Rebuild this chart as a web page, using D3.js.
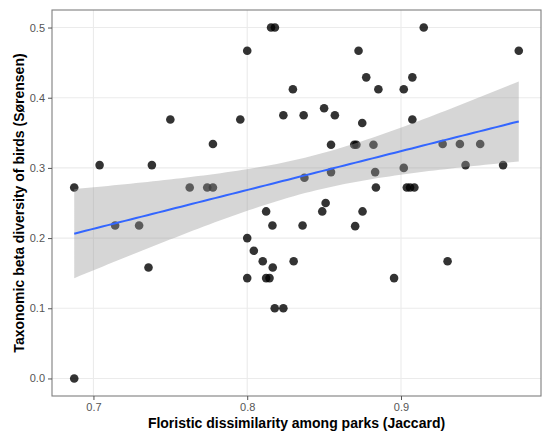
<!DOCTYPE html>
<html>
<head>
<meta charset="utf-8">
<script src="https://cdn.jsdelivr.net/npm/d3@7"></script>
<style>
  body { margin: 0; background: #fff; }
  text { font-family: "Liberation Sans", Arial, sans-serif; }
</style>
</head>
<body>
<div id="chart"></div>
<script>
// floristic dissimilarity (Jaccard) of each park pair
const jaccard = [
  0.6875, 0.704, 0.6875, 0.738, 0.750, 0.7777, 0.7955, 0.800, 0.8155, 0.818,
  0.8297, 0.8235, 0.8367, 0.7626, 0.774, 0.7777, 0.8372, 0.7141, 0.7297, 0.7358,
  0.8123, 0.8164, 0.836, 0.800, 0.8043, 0.8101, 0.8166, 0.8302, 0.800, 0.8123,
  0.8145, 0.8179, 0.8235, 0.8545, 0.8696, 0.8710, 0.8821, 0.8545, 0.8832, 0.8837,
  0.851, 0.8488, 0.875, 0.8702, 0.850, 0.857, 0.8748, 0.8724, 0.8774, 0.8853,
  0.9148, 0.9074, 0.9018, 0.9074, 0.9766, 0.9271, 0.9383, 0.9515, 0.9018, 0.942,
  0.9664, 0.9038, 0.9059, 0.9087, 0.9303, 0.8955
];
// taxonomic beta diversity of birds (Sorensen), same order
const sorensen = [
  0.272, 0.304, 0.000, 0.304, 0.369, 0.334, 0.369, 0.467, 0.500, 0.500,
  0.412, 0.375, 0.375, 0.272, 0.272, 0.272, 0.286, 0.218, 0.218, 0.158,
  0.238, 0.218, 0.218, 0.200, 0.182, 0.167, 0.158, 0.167, 0.143, 0.143,
  0.143, 0.100, 0.100, 0.333, 0.333, 0.333, 0.333, 0.294, 0.294, 0.272,
  0.250, 0.238, 0.238, 0.217, 0.385, 0.375, 0.364, 0.467, 0.429, 0.412,
  0.500, 0.429, 0.412, 0.369, 0.467, 0.334, 0.334, 0.334, 0.300, 0.304,
  0.304, 0.272, 0.272, 0.272, 0.167, 0.143
];
const xTicks = [0.7, 0.8, 0.9];
const yTicks = [0.0, 0.1, 0.2, 0.3, 0.4, 0.5];

const data = jaccard.map((x, i) => ({x: x, y: sorensen[i]}));

const W = 550, H = 440;
const margin = {top: 10, right: 9, bottom: 44, left: 52};
const width = W - margin.left - margin.right,
      height = H - margin.top - margin.bottom;

const svg = d3.select("#chart").append("svg")
    .attr("width", W).attr("height", H);
const g = svg.append("g")
    .attr("transform", `translate(${margin.left},${margin.top})`);

// ggplot-style 5% expansion
const xExt = d3.extent(jaccard), yExt = d3.extent(sorensen);
const xPad = (xExt[1] - xExt[0]) * 0.05, yPad = (yExt[1] - yExt[0]) * 0.05;
const x = d3.scaleLinear().domain([xExt[0] - xPad, xExt[1] + xPad]).range([0, width]);
const y = d3.scaleLinear().domain([yExt[0] - yPad, yExt[1] + yPad]).range([height, 0]);

// grid
g.append("g").selectAll("line").data(yTicks).join("line")
    .attr("x1", 0).attr("x2", width)
    .attr("y1", d => y(d)).attr("y2", d => y(d))
    .attr("stroke", "#ebebeb").attr("stroke-width", 1.1);
g.append("g").selectAll("line").data(xTicks).join("line")
    .attr("y1", 0).attr("y2", height)
    .attr("x1", d => x(d)).attr("x2", d => x(d))
    .attr("stroke", "#ebebeb").attr("stroke-width", 1.1);

// linear fit with 95% confidence band
const n = data.length;
const mx = d3.mean(jaccard), my = d3.mean(sorensen);
const sxx = d3.sum(jaccard, v => (v - mx) ** 2);
const sxy = d3.sum(data, d => (d.x - mx) * (d.y - my));
const b1 = sxy / sxx, b0 = my - b1 * mx;
const s = Math.sqrt(d3.sum(data, d => (d.y - b0 - b1 * d.x) ** 2) / (n - 2));
const tq = 1.9977;
const fit = d3.range(80).map(i => {
  const xv = xExt[0] + (xExt[1] - xExt[0]) * i / 79;
  const yv = b0 + b1 * xv;
  const se = s * Math.sqrt(1 / n + (xv - mx) ** 2 / sxx);
  return {x: xv, y: yv, lo: yv - tq * se, hi: yv + tq * se};
});

// points
g.append("g").selectAll("circle").data(data).join("circle")
    .attr("cx", d => x(d.x)).attr("cy", d => y(d.y))
    .attr("r", 4.3)
    .attr("fill", "#000").attr("fill-opacity", 0.8);

g.append("path").datum(fit)
    .attr("d", d3.area().x(d => x(d.x)).y0(d => y(d.lo)).y1(d => y(d.hi)))
    .attr("fill", "#999").attr("fill-opacity", 0.4);

g.append("path").datum(fit)
    .attr("d", d3.line().x(d => x(d.x)).y(d => y(d.y)))
    .attr("fill", "none").attr("stroke", "#3366FF").attr("stroke-width", 2);

// panel border
g.append("rect").attr("width", width).attr("height", height)
    .attr("fill", "none").attr("stroke", "#7f7f7f").attr("stroke-width", 1.1);

// axes
const xAxis = g.append("g").attr("transform", `translate(0,${height})`)
    .call(d3.axisBottom(x).tickValues(xTicks).tickFormat(d3.format(".1f")).tickSize(4).tickPadding(3));
const yAxis = g.append("g")
    .call(d3.axisLeft(y).tickValues(yTicks).tickFormat(d3.format(".1f")).tickSize(4).tickPadding(3));
[xAxis, yAxis].forEach(a => {
  a.select(".domain").remove();
  a.selectAll(".tick line").attr("stroke", "#555");
  a.selectAll(".tick text").attr("fill", "#555").style("font-size", "11px")
    .style("font-family", "Liberation Sans, Arial, sans-serif");
});

svg.append("text")
    .attr("x", margin.left + width / 2).attr("y", 428)
    .attr("text-anchor", "middle")
    .style("font-size", "14px").style("font-weight", "bold")
    .text("Floristic dissimilarity among parks (Jaccard)");

svg.append("text")
    .attr("transform", `translate(24,${margin.top + height / 2}) rotate(-90)`)
    .attr("text-anchor", "middle")
    .style("font-size", "14px").style("font-weight", "bold")
    .text("Taxonomic beta diversity of birds (Sørensen)");
</script>
</body>
</html>
